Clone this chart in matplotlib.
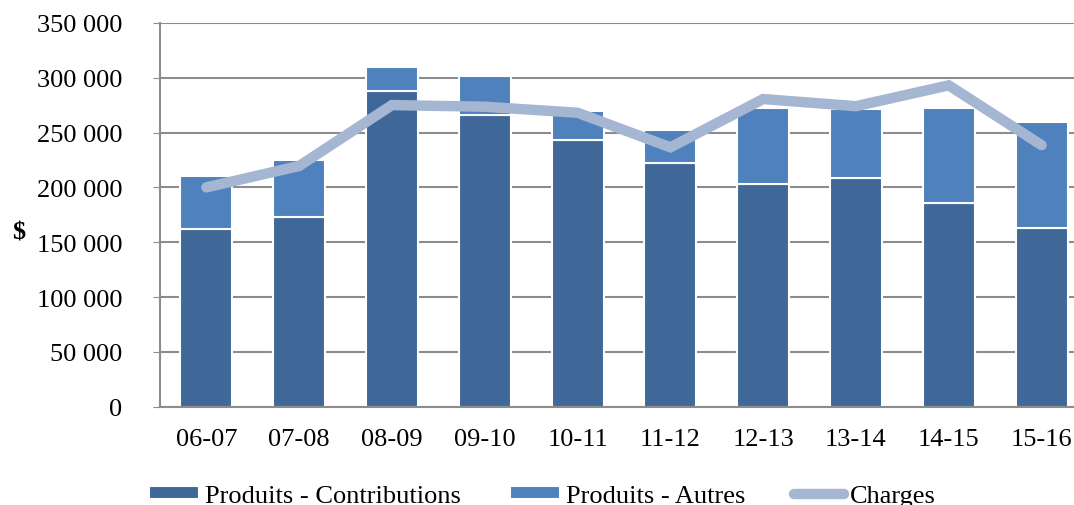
import matplotlib.pyplot as plt
import numpy as np
from matplotlib.ticker import FuncFormatter

plt.rcParams['font.family'] = ['Liberation Serif', 'DejaVu Serif']

# données (en $)
annees = ['06-07', '07-08', '08-09', '09-10', '10-11', '11-12', '12-13', '13-14', '14-15', '15-16']
contributions = [162000, 173000, 288000, 266000, 243500, 222500, 203000, 209000, 186000, 163000]
autres = [48000, 52000, 22000, 35500, 26500, 29500, 69500, 62500, 86500, 97000]
charges = [200000, 219500, 275000, 273500, 268000, 236500, 280500, 274000, 293000, 238500]

fig = plt.figure(figsize=(10.74, 5.06), dpi=100)
ax = fig.add_axes([0.149, 0.194, 0.864, 0.759])

x = np.arange(len(annees))
b1 = ax.bar(x, contributions, width=0.56, color='#3f6899', edgecolor='white', linewidth=1.5,
            label='Produits - Contributions', zorder=2)
b2 = ax.bar(x, autres, width=0.56, bottom=contributions, color='#4f81bd', edgecolor='white',
            linewidth=1.5, label='Produits - Autres', zorder=2)
l1, = ax.plot(x, charges, color='#a5b6d3', linewidth=7.5, solid_capstyle='round',
              solid_joinstyle='miter', label='Charges', zorder=3)

ax.set_xlim(-0.5, 9.5)
ax.set_ylim(0, 350000)
ax.set_yticks(np.arange(0, 350001, 50000))
ax.yaxis.set_major_formatter(FuncFormatter(lambda v, p: f'{int(v):,}'.replace(',', ' ')))
ax.set_xticks(x)
ax.set_xticklabels(annees)
ax.tick_params(axis='x', length=0, labelsize=19, pad=15)
ax.tick_params(axis='y', length=5, color='#8c8c8c', labelsize=19, pad=22)
ax.grid(axis='y', color='#8c8c8c', linewidth=1.5, zorder=0)
ax.set_axisbelow(True)
for s in ['top', 'right']:
    ax.spines[s].set_visible(False)
for s in ['left', 'bottom']:
    ax.spines[s].set_color('#8c8c8c')
    ax.spines[s].set_linewidth(1.5)

fig.text(0.011, 0.54, '$', fontsize=19, fontweight='bold', va='center')

fig.legend([b1, b2, l1], ['Produits - Contributions', 'Produits - Autres', 'Charges'],
           loc='center left', bbox_to_anchor=(0.139, 0.018), ncol=3, frameon=False,
           fontsize=19, handlelength=1.9, handleheight=0.4, columnspacing=1.85,
           handletextpad=0.22, borderpad=0, borderaxespad=0)

fig.savefig('out.png', dpi=100)
